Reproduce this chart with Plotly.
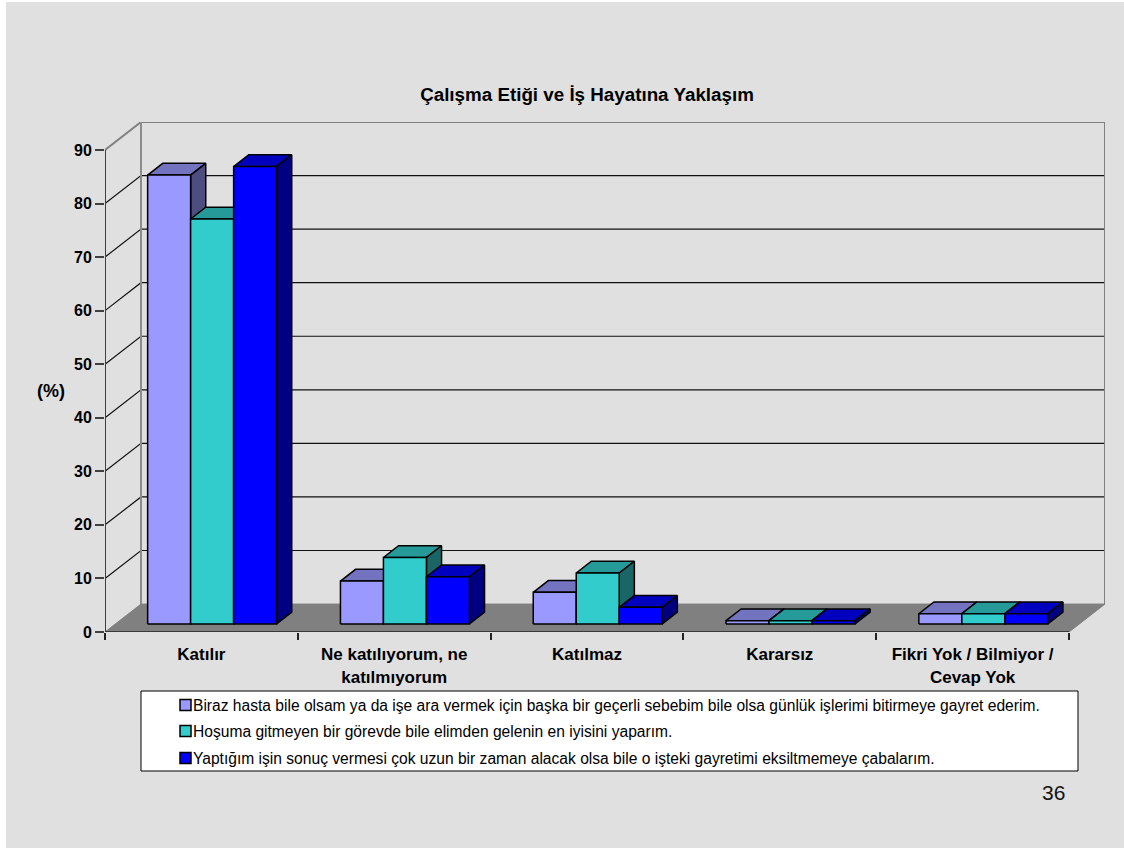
import plotly.graph_objects as go

categories = ["Katılır", "Ne katılıyorum, ne<br>katılmıyorum", "Katılmaz", "Kararsız",
              "Fikri Yok / Bilmiyor /<br>Cevap Yok"]
series_names = [
    "Biraz hasta bile olsam ya da işe ara vermek için başka bir geçerli sebebim bile olsa günlük işlerimi bitirmeye gayret ederim.",
    "Hoşuma gitmeyen bir görevde bile elimden gelenin en iyisini yaparım.",
    "Yaptığım işin sonuç vermesi çok uzun bir zaman alacak olsa bile o işteki gayretimi eksiltmemeye çabalarım.",
]
values_a = [83.8, 8.0, 5.9, 0.6, 1.9]
values_b = [75.6, 12.4, 9.5, 0.6, 1.9]
values_c = [85.4, 8.8, 3.1, 0.6, 1.9]
y_ticks = [0, 10, 20, 30, 40, 50, 60, 70, 80, 90]
title_text = "Çalışma Etiği ve İş Hayatına Yaklaşım"
y_title = "(%)"
page_number = "36"

front_colors = ["#9999FF", "#33CCCC", "#0000FF"]
top_colors = ["#7373BF", "#269999", "#0000BF"]
side_colors = ["#4D4D80", "#1A6666", "#000080"]

W, H = 1124, 848
L, R, T, B = 105, 1105, 122, 632      # plot box in pixels
CAT_PX = 192.8
PCT_PX = 5.365
DX = 36 / CAT_PX                      # depth of the floor, in x units
DY = 28 / PCT_PX                      # depth of the floor, in y units
D0, D1 = 0.29, 0.71                   # bar front and back depth fractions
GAP, BAR_W = 0.167, 0.223

FONT = "Liberation Sans, Arial, sans-serif"


def px(x):
    return (x - L) / (R - L)


def py(y):
    return (B - y) / (B - T)


def proj(x, y, d):
    return x + d * DX, y + d * DY


fig = go.Figure()


def poly(points, fill, line="black", width=1.5):
    xs = [p[0] for p in points] + [points[0][0]]
    ys = [p[1] for p in points] + [points[0][1]]
    fig.add_trace(go.Scatter(x=xs, y=ys, mode="lines", fill="toself" if fill else None,
                             fillcolor=fill, line=dict(color=line, width=width),
                             showlegend=False, hoverinfo="skip", cliponaxis=False))


def path(points, color, width):
    fig.add_trace(go.Scatter(x=[p[0] for p in points], y=[p[1] for p in points], mode="lines",
                             line=dict(color=color, width=width), showlegend=False,
                             hoverinfo="skip", cliponaxis=False))


n = len(categories)
# floor
poly([proj(0, 0, 0), proj(0, 0, 1), proj(n, 0, 1), proj(n, 0, 0)], "#808080", "#808080", 1)
# gridlines on both walls
for t in y_ticks[1:-1]:
    path([proj(0, t, 0), proj(0, t, 1), proj(n, t, 1)], "#111111", 1.2)
# wall frame
top = y_ticks[-1]
path([proj(0, top, 0), proj(0, top, 1), proj(n, top, 1), proj(n, 0, 1)], "#808080", 2)
path([proj(0, top, 1), proj(0, 0, 1)], "#8c8c8c", 2)
# front edges
path([proj(0, 0, 0), proj(0, top, 0)], "#404040", 2)
path([proj(0, 0, 0), proj(n, 0, 0)], "#222222", 1.5)

# bars, drawn left to right so that later faces cover earlier ones
for i in range(n):
    for j, vals in enumerate([values_a, values_b, values_c]):
        v = vals[i]
        x0 = i + GAP + j * BAR_W
        x1 = x0 + BAR_W
        poly([proj(x0, v, D0), proj(x0, v, D1), proj(x1, v, D1), proj(x1, v, D0)], top_colors[j])
        poly([proj(x1, 0, D0), proj(x1, 0, D1), proj(x1, v, D1), proj(x1, v, D0)], side_colors[j])
        poly([proj(x0, 0, D0), proj(x1, 0, D0), proj(x1, v, D0), proj(x0, v, D0)], front_colors[j])

shapes = [
    dict(type="rect", xref="paper", yref="paper", x0=px(6), x1=px(W), y0=py(H), y1=py(2),
         fillcolor="#E0E0E0", line_width=0, layer="below"),
    dict(type="rect", xref="paper", yref="paper", x0=px(141), x1=px(1078), y0=py(771), y1=py(691),
         fillcolor="white", line=dict(color="black", width=1)),
]
annotations = [
    dict(text=f"<b>{y_title}</b>", x=px(51), y=py(391), xref="paper", yref="paper", showarrow=False,
         xanchor="center", yanchor="middle", font=dict(size=18, family=FONT, color="black")),
    dict(text=page_number, x=px(1053.7), y=py(792), xref="paper", yref="paper", showarrow=False,
         xanchor="center", yanchor="middle", font=dict(size=21, family=FONT, color="#111111")),
]

legend_y = [705, 731, 758]
for name, y, color in zip(series_names, legend_y, front_colors):
    shapes.append(dict(type="rect", xref="paper", yref="paper", x0=px(180), x1=px(191),
                       y0=py(y + 5.5), y1=py(y - 5.5), fillcolor=color,
                       line=dict(color="black", width=1.5)))
    annotations.append(dict(text=name, x=px(194), y=py(y), xref="paper", yref="paper",
                            xanchor="left", yanchor="middle", showarrow=False, xshift=-3,
                            font=dict(size=15.6, family=FONT, color="black")))

tick_text = ["<br>".join(f'<span style="font-size:17px"><b>{part}</b></span>' for part in c.split("<br>"))
             for c in categories]

fig.update_layout(
    width=W, height=H,
    margin=dict(l=L, r=W - R, t=T, b=H - B, pad=0),
    paper_bgcolor="white", plot_bgcolor="rgba(0,0,0,0)",
    showlegend=False,
    title=dict(text=f"<b>{title_text}</b>", x=587 / W, xanchor="center", y=1 - 94 / H, yanchor="middle",
               font=dict(size=18.8, family=FONT, color="black")),
    shapes=shapes, annotations=annotations,
    xaxis=dict(range=[0, n + DX], showgrid=False, zeroline=False, showline=False,
               tickmode="array", tickvals=[i + 0.5 for i in range(n)], ticktext=tick_text,
               ticks="", tickangle=0, ticklabelstandoff=9,
               tickfont=dict(size=18, family=FONT, color="black"),
               minor=dict(tickmode="array", tickvals=list(range(n + 1)), ticks="outside", ticklen=7,
                          tickcolor="#222222", tickwidth=1.5, showgrid=False)),
    yaxis=dict(range=[0, top + DY], showgrid=False, zeroline=False, showline=False,
               tickmode="array", tickvals=y_ticks, ticktext=[f"<b>{t}</b>" for t in y_ticks],
               ticks="outside", ticklen=9, tickcolor="#404040", tickwidth=1.5,
               tickfont=dict(size=16, family=FONT, color="black")),
)

fig.write_html("out.html", config=dict(displayModeBar=False),
               post_script="document.body.style.margin='0';document.body.style.overflow='hidden';")
